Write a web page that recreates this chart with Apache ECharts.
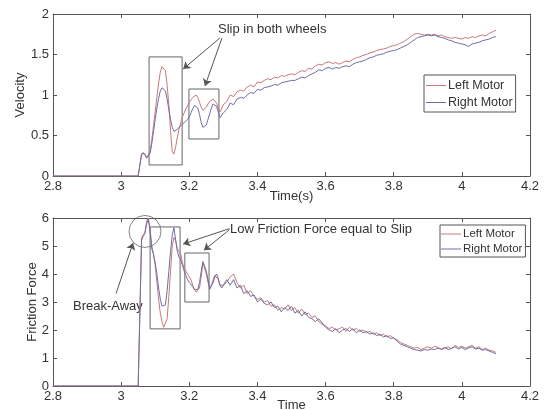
<!DOCTYPE html>
<html><head><meta charset="utf-8">
<script src="https://cdn.jsdelivr.net/npm/echarts@6/dist/echarts.min.js"></script>
<style>html,body{margin:0;padding:0;background:#fff}#c{width:544px;height:410px}</style>
</head><body><div id="c"></div>
<script>
const xTicks = [2.8, 3, 3.2, 3.4, 3.6, 3.8, 4, 4.2];
const velTicks = [0, 0.5, 1, 1.5, 2];
const forceTicks = [0, 1, 2, 3, 4, 5, 6];
const seriesNames = ['Left Motor', 'Right Motor'];

const time = [2.8, 3.05, 3.055, 3.06, 3.065, 3.07, 3.075, 3.08, 3.085, 3.09, 3.095,
  3.10, 3.105, 3.11, 3.115, 3.12, 3.125, 3.13, 3.135, 3.14, 3.145,
  3.15, 3.155, 3.16, 3.165, 3.17, 3.175, 3.18, 3.185, 3.19, 3.195,
  3.20, 3.205, 3.21, 3.215, 3.22, 3.225, 3.23, 3.235, 3.24, 3.245,
  3.25, 3.255, 3.26, 3.265, 3.27, 3.275, 3.28, 3.285, 3.29, 3.295, 3.30,
  3.31, 3.32, 3.33, 3.34, 3.35, 3.36, 3.37, 3.38, 3.39, 3.40,
  3.41, 3.42, 3.43, 3.44, 3.45, 3.46, 3.47, 3.48, 3.49, 3.50,
  3.51, 3.52, 3.53, 3.54, 3.55, 3.56, 3.57, 3.58, 3.59, 3.60,
  3.61, 3.62, 3.63, 3.64, 3.65, 3.66, 3.67, 3.68, 3.69, 3.70,
  3.71, 3.72, 3.73, 3.74, 3.75, 3.76, 3.77, 3.78, 3.79, 3.80,
  3.81, 3.82, 3.83, 3.84, 3.85, 3.86, 3.87, 3.88, 3.89, 3.90,
  3.91, 3.92, 3.93, 3.94, 3.95, 3.96, 3.97, 3.98, 3.99, 4.00,
  4.01, 4.02, 4.03, 4.04, 4.05, 4.06, 4.07, 4.08, 4.09, 4.10];

const velLeft = [0, 0, 0, 0.28, 0.30, 0.27, 0.23, 0.22, 0.30, 0.45, 0.62,
  0.80, 0.98, 1.15, 1.28, 1.35, 1.37, 1.30, 1.12, 0.88, 0.55,
  0.30, 0.27, 0.36, 0.48, 0.58, 0.66, 0.73, 0.78, 0.83, 0.87,
  0.91, 0.94, 0.97, 0.99, 1.00, 0.97, 0.91, 0.85, 0.81, 0.82,
  0.85, 0.89, 0.92, 0.94, 0.95, 0.94, 0.90, 0.84, 0.79, 0.83, 0.88,
  0.92, 1.00, 0.98, 1.04, 1.06, 1.05, 1.10, 1.12, 1.10, 1.16,
  1.15, 1.18, 1.20, 1.19, 1.22, 1.21, 1.24, 1.23, 1.25, 1.26,
  1.25, 1.28, 1.30, 1.29, 1.33, 1.32, 1.36, 1.38, 1.37, 1.40,
  1.41, 1.39, 1.40, 1.38, 1.40, 1.42, 1.41, 1.44, 1.46, 1.47,
  1.49, 1.50, 1.52, 1.53, 1.55, 1.56, 1.57, 1.58, 1.60, 1.61,
  1.62, 1.64, 1.66, 1.69, 1.72, 1.75, 1.76, 1.75, 1.74, 1.75,
  1.74, 1.75, 1.73, 1.74, 1.72, 1.71, 1.70, 1.71, 1.70, 1.69,
  1.71, 1.70, 1.72, 1.71, 1.73, 1.74, 1.73, 1.76, 1.78, 1.80];

const velRight = [0, 0, 0, 0.26, 0.29, 0.26, 0.22, 0.21, 0.28, 0.40, 0.55,
  0.70, 0.84, 0.96, 1.05, 1.09, 1.10, 1.05, 0.95, 0.82, 0.70,
  0.60, 0.55, 0.56, 0.58, 0.60, 0.62, 0.64, 0.66, 0.68, 0.70,
  0.73, 0.78, 0.83, 0.87, 0.88, 0.84, 0.76, 0.66, 0.60, 0.59,
  0.63, 0.70, 0.77, 0.84, 0.89, 0.90, 0.86, 0.79, 0.72, 0.74, 0.78,
  0.82, 0.90, 0.88, 0.95, 0.97, 0.96, 1.00, 1.03, 1.02, 1.07,
  1.06, 1.09, 1.10, 1.11, 1.13, 1.12, 1.15, 1.16, 1.17, 1.18,
  1.18, 1.20, 1.22, 1.21, 1.24, 1.26, 1.28, 1.31, 1.30, 1.33,
  1.34, 1.32, 1.34, 1.33, 1.35, 1.36, 1.35, 1.38, 1.40, 1.41,
  1.42, 1.44, 1.46, 1.47, 1.49, 1.50, 1.51, 1.53, 1.54, 1.55,
  1.56, 1.58, 1.60, 1.62, 1.65, 1.68, 1.71, 1.72, 1.73, 1.74,
  1.73, 1.74, 1.72, 1.71, 1.70, 1.68, 1.67, 1.65, 1.64, 1.63,
  1.62, 1.60, 1.63, 1.64, 1.65, 1.67, 1.68, 1.69, 1.71, 1.72];

const forceLeft = [0, 0, 0, 5.3, 5.4, 5.5, 5.9, 6.0, 5.6, 5.0, 4.7,
  4.3, 3.7, 3.1, 2.6, 2.3, 2.1, 2.05, 2.4, 3.2, 4.1,
  5.0, 5.3, 5.2, 4.9, 4.95, 4.7, 4.4, 4.2, 4.1, 4.0,
  3.9, 3.8, 3.6, 3.45, 3.35, 3.3, 3.5, 3.9, 4.4, 4.4,
  4.0, 3.7, 3.5, 3.6, 3.8, 3.95, 4.0, 3.8, 3.6, 3.55, 3.6,
  3.7, 3.9, 4.0, 3.7, 3.5, 3.6, 3.3, 3.4, 3.2, 3.1,
  3.15, 3.0, 3.05, 2.85, 2.9, 2.7, 2.8, 2.75, 2.9, 2.7,
  2.8, 2.6, 2.75, 2.55, 2.6, 2.45, 2.5, 2.3, 2.2, 2.15,
  2.05, 2.1, 2.0, 2.05, 2.1, 1.95, 2.1, 2.0, 2.05, 1.95,
  2.0, 1.9, 1.95, 1.85, 1.9, 1.8, 1.85, 1.75, 1.8, 1.7,
  1.65, 1.55, 1.5, 1.45, 1.4, 1.35, 1.38, 1.3, 1.35, 1.4,
  1.35, 1.42, 1.38, 1.3, 1.35, 1.4, 1.32, 1.45, 1.38, 1.42,
  1.35, 1.4, 1.45, 1.35, 1.4, 1.3, 1.35, 1.28, 1.25, 1.2];

const forceRight = [0, 0, 0, 5.2, 5.35, 5.45, 5.8, 5.95, 5.5, 4.9, 4.7,
  4.4, 4.0, 3.5, 3.1, 2.85, 2.8, 2.9, 3.4, 4.1, 4.8,
  5.4, 5.65, 5.2, 4.8, 4.6, 4.5, 4.3, 4.1, 3.95, 3.8,
  3.7, 3.65, 3.55, 3.45, 3.4, 3.45, 3.7, 4.1, 4.45, 4.5,
  4.1, 3.8, 3.45, 3.5, 3.7, 3.9, 4.0, 3.85, 3.6, 3.5, 3.55,
  3.8, 3.6, 3.8, 3.5, 3.6, 3.3, 3.4, 3.2, 3.25, 3.0,
  3.1, 2.95, 2.9, 3.0, 2.8, 2.85, 2.65, 2.8, 2.7, 2.85,
  2.6, 2.7, 2.5, 2.65, 2.45, 2.4, 2.3, 2.4, 2.25, 2.1,
  2.0, 1.95, 2.05, 1.9, 2.0, 2.05, 1.95, 2.05, 1.9, 2.0,
  1.9, 1.95, 1.85, 1.9, 1.8, 1.85, 1.75, 1.8, 1.7, 1.72,
  1.6, 1.5, 1.45, 1.4, 1.35, 1.3, 1.28, 1.25, 1.3, 1.28,
  1.32, 1.3, 1.35, 1.32, 1.38, 1.3, 1.35, 1.4, 1.32, 1.38,
  1.3, 1.36, 1.4, 1.32, 1.35, 1.28, 1.3, 1.25, 1.2, 1.15];

const RED = '#c87878', BLUE = '#6e6ea2', AX = '#555', TXT = '#333';
const FONT = 'Liberation Sans, Arial, sans-serif';

function pairs(v) { return time.map((t, i) => [t, v[i]]); }

function xAx(gi, name, gap, showLab, pos) {
  return {
    type: 'value', gridIndex: gi, min: 2.8, max: 4.2, interval: 0.2, position: pos,
    name: name, nameLocation: 'middle', nameGap: gap, nameMoveOverlap: false,
    nameTextStyle: { fontFamily: FONT, fontSize: 13, color: TXT },
    axisLine: { show: true, onZero: false, lineStyle: { color: AX, width: 1 } },
    axisTick: { show: true, inside: true, length: 4, lineStyle: { color: AX } },
    axisLabel: { show: showLab, fontFamily: FONT, fontSize: 13, color: TXT, margin: 4,
      showMinLabel: true, showMaxLabel: true },
    splitLine: { show: false }
  };
}
function yAx(gi, ticks, name, gap, showLab, pos) {
  const step = ticks[1] - ticks[0];
  return {
    type: 'value', gridIndex: gi, min: ticks[0], max: ticks[ticks.length - 1], interval: step,
    position: pos, name: name, nameLocation: 'middle', nameGap: gap, nameMoveOverlap: false,
    nameTextStyle: { fontFamily: FONT, fontSize: 13, color: TXT },
    axisLine: { show: true, onZero: false, lineStyle: { color: AX, width: 1 } },
    axisTick: { show: true, inside: true, length: 4, lineStyle: { color: AX } },
    axisLabel: { show: showLab, fontFamily: FONT, fontSize: 13, color: TXT, margin: 4 },
    splitLine: { show: false }
  };
}

const boxStyle = { color: 'rgba(0,0,0,0)', borderColor: '#666', borderWidth: 1 };
const arrowLine = { color: '#555', width: 1, type: 'solid' };

const chart = echarts.init(document.getElementById('c'), null, { renderer: 'canvas' });
chart.setOption({
  backgroundColor: '#fff',
  animation: false,
  grid: [
    { left: 53, right: 14, top: 14, height: 162, outerBoundsMode: 'none', containLabel: false },
    { left: 53, right: 14, top: 218, height: 168, outerBoundsMode: 'none', containLabel: false }
  ],
  xAxis: [
    xAx(0, 'Time(s)', 14, true, 'bottom'),
    xAx(0, '', 0, false, 'top'),
    xAx(1, 'Time', 13, true, 'bottom'),
    xAx(1, '', 0, false, 'top')
  ],
  yAxis: [
    yAx(0, velTicks, 'Velocity', 26, true, 'left'),
    yAx(0, velTicks, '', 0, false, 'right'),
    yAx(1, forceTicks, 'Friction Force', 14, true, 'left'),
    yAx(1, forceTicks, '', 0, false, 'right')
  ],
  legend: [
    { data: seriesNames, orient: 'vertical', left: 424, top: 75, icon: 'rect', itemWidth: 20, itemHeight: 1,
      itemGap: 4, padding: [4, 3, 3, 2], borderColor: '#555', borderWidth: 1,
      textStyle: { fontFamily: FONT, fontSize: 12.5, color: TXT, padding: [0, 0, 0, -3] } },
    { data: seriesNames, orient: 'vertical', left: 440, top: 225, icon: 'rect', itemWidth: 20, itemHeight: 1,
      itemGap: 3, padding: [3, 3, 2, 1], borderColor: '#555', borderWidth: 1,
      textStyle: { fontFamily: FONT, fontSize: 11.5, color: TXT, padding: [0, 0, 0, -3] } }
  ],
  series: [
    { name: seriesNames[0], type: 'line', xAxisIndex: 0, yAxisIndex: 0, data: pairs(velLeft),
      symbol: 'none', lineStyle: { color: RED, width: 1 }, itemStyle: { color: RED },
      markArea: { silent: true, itemStyle: boxStyle, data: [
        [{ coord: [3.082, 1.47] }, { coord: [3.179, 0.136] }],
        [{ coord: [3.199, 1.074] }, { coord: [3.287, 0.457] }]
      ] },
      markLine: { silent: true, symbol: ['none', 'arrow'], symbolSize: 7, lineStyle: arrowLine,
        label: { show: false }, data: [
        [{ coord: [3.290, 1.704] }, { coord: [3.182, 1.321] }],
        [{ coord: [3.296, 1.704] }, { coord: [3.246, 1.111] }]
      ] } },
    { name: seriesNames[1], type: 'line', xAxisIndex: 0, yAxisIndex: 0, data: pairs(velRight),
      symbol: 'none', lineStyle: { color: BLUE, width: 1 }, itemStyle: { color: BLUE } },
    { name: seriesNames[0], type: 'line', xAxisIndex: 2, yAxisIndex: 2, data: pairs(forceLeft),
      symbol: 'none', lineStyle: { color: RED, width: 1 }, itemStyle: { color: RED },
      markArea: { silent: true, itemStyle: boxStyle, data: [
        [{ coord: [3.085, 5.68] }, { coord: [3.173, 2.04] }],
        [{ coord: [3.187, 4.75] }, { coord: [3.258, 3.0] }]
      ] },
      markLine: { silent: true, symbol: ['none', 'arrow'], symbolSize: 7, lineStyle: arrowLine,
        label: { show: false }, data: [
        [{ coord: [2.985, 3.3] }, { coord: [3.035, 5.11] }],
        [{ coord: [3.318, 5.62] }, { coord: [3.182, 5.07] }],
        [{ coord: [3.318, 5.58] }, { coord: [3.243, 4.85] }]
      ] } },
    { name: seriesNames[1], type: 'line', xAxisIndex: 2, yAxisIndex: 2, data: pairs(forceRight),
      symbol: 'none', lineStyle: { color: BLUE, width: 1 }, itemStyle: { color: BLUE } },
    { type: 'scatter', xAxisIndex: 2, yAxisIndex: 2, data: [[3.07, 5.52]], symbol: 'circle',
      symbolSize: 32, silent: true, clip: false,
      itemStyle: { color: 'rgba(0,0,0,0)', borderColor: '#666', borderWidth: 1 } }
  ],
  graphic: [
    { type: 'text', left: 218, top: 23, style: { text: 'Slip in both wheels', font: '13px ' + FONT, fill: TXT } },
    { type: 'text', left: 230, top: 223, style: { text: 'Low Friction Force equal to Slip', font: '13px ' + FONT, fill: TXT } },
    { type: 'text', left: 73, top: 300, style: { text: 'Break-Away', font: '13px ' + FONT, fill: TXT } }
  ]
});
</script></body></html>
